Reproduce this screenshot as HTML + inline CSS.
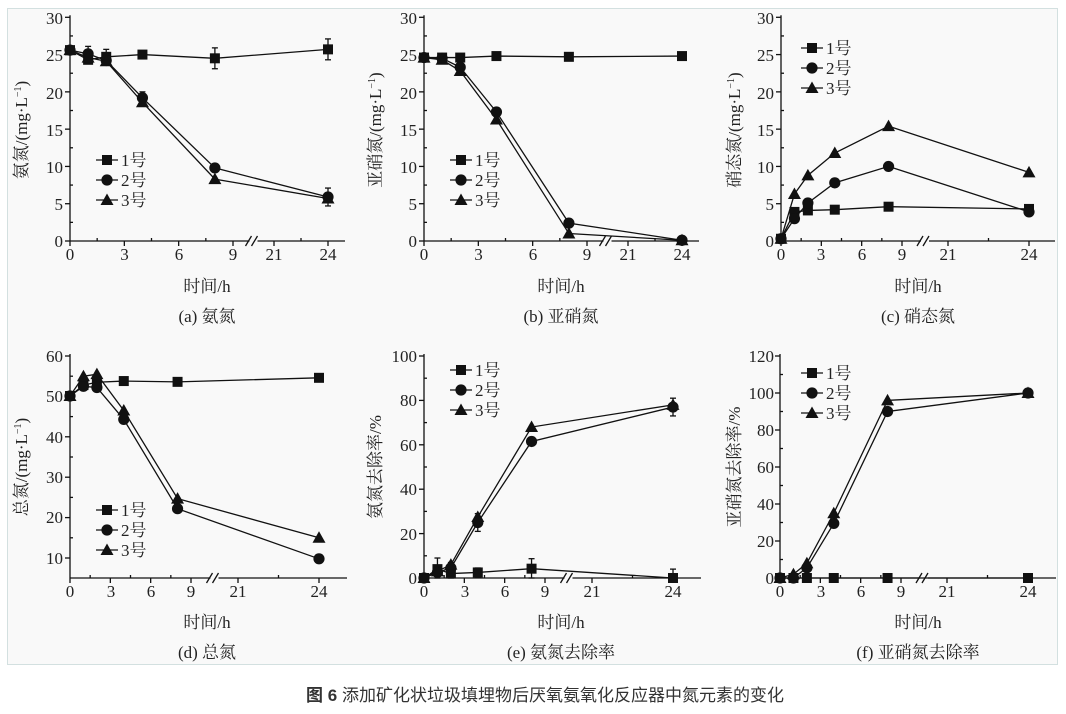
<!DOCTYPE html>
<html><head><meta charset="utf-8"><style>
body{margin:0;background:#fff;width:1066px;height:709px;overflow:hidden}
text{font-family:"Liberation Serif","Noto Serif CJK SC",serif;fill:#222}
text.cap{font-family:"Liberation Sans","Noto Sans CJK SC",sans-serif;fill:#333}
</style></head><body>
<svg id="s" width="1066" height="709" xmlns="http://www.w3.org/2000/svg">
<rect x="7.5" y="8.5" width="1050" height="656" fill="#f9f9f9" stroke="#d3e0e0"/>
<g font-size="17" text-anchor="end">
<text x="63" y="247">0</text><text x="63" y="210">5</text><text x="63" y="173">10</text><text x="63" y="136">15</text><text x="63" y="99">20</text><text x="63" y="61">25</text><text x="63" y="24">30</text>
<text x="417" y="247">0</text><text x="417" y="210">5</text><text x="417" y="173">10</text><text x="417" y="136">15</text><text x="417" y="99">20</text><text x="417" y="61">25</text><text x="417" y="24">30</text>
<text x="774" y="247">0</text><text x="774" y="210">5</text><text x="774" y="173">10</text><text x="774" y="136">15</text><text x="774" y="99">20</text><text x="774" y="61">25</text><text x="774" y="24">30</text>
<text x="63" y="564">10</text><text x="63" y="523">20</text><text x="63" y="483">30</text><text x="63" y="443">40</text><text x="63" y="402">50</text><text x="63" y="362">60</text>
<text x="417" y="584">0</text><text x="417" y="540">20</text><text x="417" y="495">40</text><text x="417" y="451">60</text><text x="417" y="406">80</text><text x="417" y="362">100</text>
<text x="774" y="584">0</text><text x="774" y="547">20</text><text x="774" y="510">40</text><text x="774" y="473">60</text><text x="774" y="436">80</text><text x="774" y="399">100</text><text x="774" y="362">120</text>
</g>
<g font-size="17" text-anchor="middle">
<text x="70" y="260">0</text><text x="124.5" y="260">3</text><text x="179" y="260">6</text><text x="233" y="260">9</text><text x="274" y="260">21</text><text x="328" y="260">24</text>
<text x="424" y="260">0</text><text x="478.5" y="260">3</text><text x="533" y="260">6</text><text x="587" y="260">9</text><text x="628" y="260">21</text><text x="682" y="260">24</text>
<text x="781" y="260">0</text><text x="821" y="260">3</text><text x="862" y="260">6</text><text x="902" y="260">9</text><text x="948" y="260">21</text><text x="1029" y="260">24</text>
<text x="70" y="597">0</text><text x="111" y="597">3</text><text x="151" y="597">6</text><text x="191" y="597">9</text><text x="238" y="597">21</text><text x="319" y="597">24</text>
<text x="424" y="597">0</text><text x="465" y="597">3</text><text x="505" y="597">6</text><text x="545" y="597">9</text><text x="592" y="597">21</text><text x="673" y="597">24</text>
<text x="780" y="597">0</text><text x="821" y="597">3</text><text x="861" y="597">6</text><text x="901" y="597">9</text><text x="947" y="597">21</text><text x="1028" y="597">24</text>
<text x="207" y="292">时间/h</text><text x="207" y="322">(a) 氨氮</text>
<text x="561" y="292">时间/h</text><text x="561" y="322">(b) 亚硝氮</text>
<text x="918" y="292">时间/h</text><text x="918" y="322">(c) 硝态氮</text>
<text x="207" y="628">时间/h</text><text x="207" y="658">(d) 总氮</text>
<text x="561" y="628">时间/h</text><text x="561" y="658">(e) 氨氮去除率</text>
<text x="918" y="628">时间/h</text><text x="918" y="658">(f) 亚硝氮去除率</text>
<text transform="translate(27,130) rotate(-90)">氨氮/(mg·L<tspan font-size="10" dy="-6">−1</tspan><tspan dy="6">)</tspan></text>
<text transform="translate(381,130) rotate(-90)">亚硝氮/(mg·L<tspan font-size="10" dy="-6">−1</tspan><tspan dy="6">)</tspan></text>
<text transform="translate(740,130) rotate(-90)">硝态氮/(mg·L<tspan font-size="10" dy="-6">−1</tspan><tspan dy="6">)</tspan></text>
<text transform="translate(27,467) rotate(-90)">总氮/(mg·L<tspan font-size="10" dy="-6">−1</tspan><tspan dy="6">)</tspan></text>
<text transform="translate(381,467) rotate(-90)">氨氮去除率/%</text>
<text transform="translate(740,467) rotate(-90)">亚硝氮去除率/%</text>
</g>
<g font-size="17">
<text x="121" y="166">1号</text><text x="121" y="186">2号</text><text x="121" y="206">3号</text>
<text x="475" y="166">1号</text><text x="475" y="186">2号</text><text x="475" y="206">3号</text>
<text x="826" y="54">1号</text><text x="826" y="74">2号</text><text x="826" y="94">3号</text>
<text x="121" y="516">1号</text><text x="121" y="536">2号</text><text x="121" y="556">3号</text>
<text x="475" y="376">1号</text><text x="475" y="396">2号</text><text x="475" y="416">3号</text>
<text x="826" y="379">1号</text><text x="826" y="399">2号</text><text x="826" y="419">3号</text>
</g>
<text class="cap" x="545" y="701" text-anchor="middle" font-size="17"><tspan font-weight="bold">图 6</tspan>  添加矿化状垃圾填埋物后厌氧氨氧化反应器中氮元素的变化</text>
<g id="g" stroke="#111" fill="none" stroke-width="1.3"></g>
</svg>
<script>
var g=document.getElementById('g'),h='';
function L(x1,y1,x2,y2){h+='<line x1="'+x1+'" y1="'+y1+'" x2="'+x2+'" y2="'+y2+'"/>';}
function M(t,x,y){var s=5;if(t==0)h+='<rect x="'+(x-s)+'" y="'+(y-s)+'" width="'+2*s+'" height="'+2*s+'" fill="#111" stroke="none"/>';
else if(t==1)h+='<circle cx="'+x+'" cy="'+y+'" r="5.6" fill="#111" stroke="none"/>';
else h+='<polygon points="'+x+','+(y-6.5)+' '+(x-6.5)+','+(y+5)+' '+(x+6.5)+','+(y+5)+'" fill="#111" stroke="none"/>';}
var T=[0,1,2,4,8,24];
var P=[
{x0:70,x9:233,x21:274,x24:328,xe:345,yb:241,v0:0,yt:17.3,vt:30,yticks:[0,5,10,15,20,25,30],lx:107,ly:[160,180,200],
d:[[25.6,24.3,24.7,25,24.5,25.7],[25.6,25.1,24.2,19.2,9.8,5.9],[25.6,24.6,24.1,18.6,8.3,5.7]],eb:[[0,8,1.4],[0,24,1.4],[1,24,1.2],[1,1,1],[0,2,1],[1,4,0.8]]},
{x0:424,x9:587,x21:628,x24:682,xe:699,yb:241,v0:0,yt:17.3,vt:30,yticks:[0,5,10,15,20,25,30],lx:461,ly:[160,180,200],
d:[[24.6,24.6,24.6,24.8,24.7,24.8],[24.6,24.5,23.3,17.3,2.4,0.1],[24.6,24.3,22.8,16.3,1.0,0.1]],eb:[]},
{x0:781,x9:902,x21:948,x24:1029,xe:1055,yb:241,v0:0,yt:17.3,vt:30,yticks:[0,5,10,15,20,25,30],lx:812,ly:[48,68,88],
d:[[0.3,3.9,4.1,4.2,4.6,4.3],[0.3,3.0,5.1,7.8,10.0,3.9],[0.3,6.3,8.8,11.8,15.4,9.2]],eb:[]},
{x0:70,x9:191,x21:238,x24:319,xe:347,yb:558,v0:10,yt:356,vt:60,ybot:578,yticks:[10,20,30,40,50,60],lx:107,ly:[510,530,550],
d:[[50.1,52.8,53.5,53.8,53.6,54.6],[50.1,52.5,52.2,44.3,22.2,9.8],[50.1,55,55.5,46.5,24.7,15.0]],eb:[]},
{x0:424,x9:545,x21:592,x24:673,xe:701,yb:578,v0:0,yt:356,vt:100,yticks:[0,20,40,60,80,100],lx:461,ly:[370,390,410],
d:[[0,4,2,2.5,4.2,0],[0,2.5,4.5,25,61.5,77],[0,3,6,27.5,68,78]],eb:[[0,1,5],[0,2,5],[0,4,2],[0,8,4.5],[0,24,4],[1,24,4],[1,4,4]]},
{x0:780,x9:901,x21:947,x24:1028,xe:1056,yb:578,v0:0,yt:356,vt:120,yticks:[0,20,40,60,80,100,120],lx:812,ly:[373,393,413],
d:[[0,0,0,0,0,0],[0,0,5.5,29.5,90,100],[0,2,8,35,96,100]],eb:[]}];
P.forEach(function(p){
 var k=(p.x9-p.x0)/9,fx=function(t){return t<=9?p.x0+t*k:p.x21+(t-21)*(p.x24-p.x21)/3;};
 var fy=function(v){return p.yb-(v-p.v0)*(p.yb-p.yt)/(p.vt-p.v0);};
 var ab=p.ybot||p.yb, top=p.yt-2;
 L(p.x0,top,p.x0,ab);
 var bx=(p.x9+p.x21)/2;
 L(p.x0,ab,bx-4,ab);L(bx+4,ab,p.xe,ab);
 L(bx-8,ab+5,bx-2,ab-5);L(bx-2,ab+5,bx+4,ab-5);
 p.yticks.forEach(function(v,i){var y=fy(v);L(p.x0-5,y,p.x0,y);if(i<p.yticks.length-1){var y2=fy((v+p.yticks[i+1])/2);L(p.x0,y2,p.x0+3,y2);}});
 [0,3,6,9].forEach(function(t){L(fx(t),ab,fx(t),ab+5);});[1.5,4.5,7.5].forEach(function(t){L(fx(t),ab,fx(t),ab-3);});
 [21,24].forEach(function(t){L(fx(t),ab,fx(t),ab+5);});L(fx(22.5),ab,fx(22.5),ab-3);
 p.eb.forEach(function(e){var s=p.d[e[0]];if(!s)return;var i=T.indexOf(e[1]),x=fx(e[1]),v=s[i],y1=fy(v+e[2]),y2=fy(Math.max(p.v0,v-e[2]));
  L(x,y1,x,y2);L(x-3,y1,x+3,y1);L(x-3,y2,x+3,y2);});
 p.d.forEach(function(s,j){var pts=T.map(function(t,i){return fx(t)+','+fy(s[i]);}).join(' ');
  h+='<polyline points="'+pts+'"/>';T.forEach(function(t,i){M(j,fx(t),fy(s[i]));});
  L(p.lx-11,p.ly[j],p.lx+11,p.ly[j]);M(j,p.lx,p.ly[j]);});
});
g.innerHTML=h;
</script>
</body></html>
